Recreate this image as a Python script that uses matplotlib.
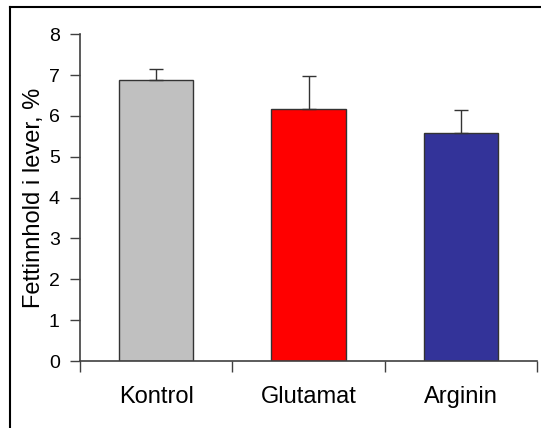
import matplotlib.pyplot as plt
from matplotlib.lines import Line2D

plt.rcParams['font.family'] = ['Liberation Sans', 'DejaVu Sans']

grupper = ['Kontrol', 'Glutamat', 'Arginin']
fett = [6.87, 6.17, 5.58]
feil = [0.28, 0.82, 0.56]
farger = ['#C0C0C0', '#FF0000', '#333399']

fig = plt.figure(figsize=(5.41, 4.28), dpi=100)
ax = fig.add_axes([80/541, 1-361/428, 457/541, (361-34.3)/428])

pos = [1, 2, 3]
ax.bar(pos, fett, width=0.49, color=farger, edgecolor='#333333', linewidth=1.0, zorder=2)
ax.errorbar(pos, fett, yerr=[[0, 0, 0], feil], fmt='none', ecolor='#333333',
            elinewidth=1.0, capsize=5, capthick=1.0, zorder=3)

ax.set_xlim(0.5, 3.5)
ax.set_ylim(0, 8)
ax.set_yticks(range(0, 9))
ax.tick_params(axis='y', direction='out', length=7, width=1, color='#404040',
               labelsize=14, pad=7.5)
ax.set_xticks([0.5, 1.5, 2.5, 3.5])
ax.set_xticklabels([])
ax.set_xticks(pos, minor=True)
ax.set_xticklabels(grupper, minor=True)
ax.tick_params(axis='x', which='major', direction='out', length=8, width=1, color='#404040')
ax.tick_params(axis='x', which='minor', length=0, labelsize=17, pad=18)

for s in ['top', 'right']:
    ax.spines[s].set_visible(False)
for s in ['left', 'bottom']:
    ax.spines[s].set_color('#404040')
    ax.spines[s].set_linewidth(1.2)

ax.set_ylabel('Fettinnhold i lever, %', fontsize=17, labelpad=3)

# ramme rundt figuren
fig.add_artist(Line2D([9.5/541, 9.5/541], [0, 1-7/428], color='black', lw=1.5))
fig.add_artist(Line2D([9.5/541, 1], [1-7/428, 1-7/428], color='black', lw=1.5))

fig.savefig('out.png', dpi=100)
